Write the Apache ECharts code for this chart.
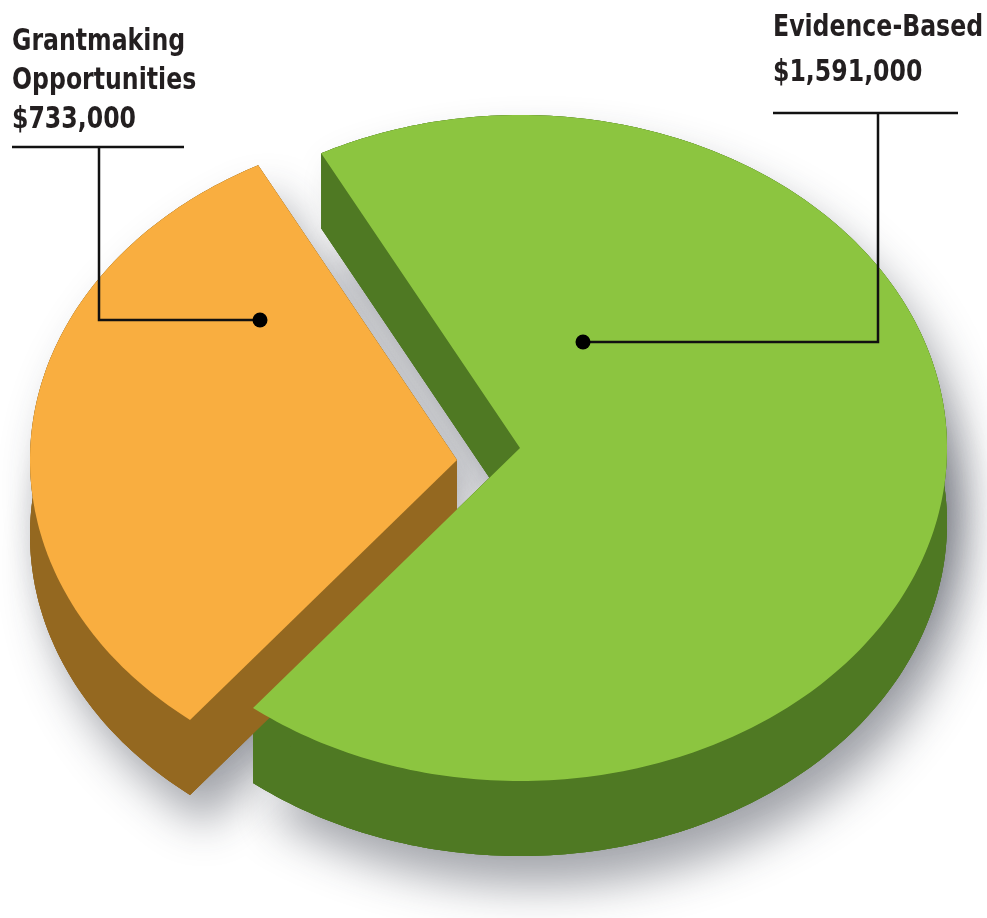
<!DOCTYPE html>
<html>
<head>
<meta charset="utf-8">
<script src="https://cdn.jsdelivr.net/npm/echarts@6/dist/echarts.min.js"></script>
<style>
html, body { margin: 0; padding: 0; background: #fff; }
#main { width: 987px; height: 918px; }
</style>
</head>
<body>
<div id="main"></div>
<script>
// data
var categories = ['Evidence-Based', 'Grantmaking Opportunities'];
var labelNames = ['Evidence-Based', 'Grantmaking\nOpportunities'];
var amounts = [1591000, 733000];

// look
var topColors = ['#8cc540', '#f9ae40'];
var sideColors = ['#4f7923', '#946820'];
var RX = 427, RY = 333, DEPTH = 75;
var START_ANGLE = 231.3;           // first slice starts here, going counter-clockwise
var centers = [[520, 448], [457, 460]];   // exploded slice centres
var labelStyle = [
    { x: 773, y: 6, lineHeight: 45, ux0: 773, ux1: 958, uy: 113, vx: 878, dot: [63, -106] },
    { x: 12, y: 23, lineHeight: 39, ux0: 12, ux1: 184, uy: 147, vx: 99, dot: [-197, -140] }
];

var total = amounts.reduce(function (a, b) { return a + b; }, 0);

function pt(c, deg, dy) {
    var r = deg * Math.PI / 180;
    return [c[0] + RX * Math.cos(r), c[1] - RY * Math.sin(r) + dy];
}
function arc(c, a0, a1, dy) {
    var n = Math.ceil(Math.abs(a1 - a0)) + 1;
    var pts = [];
    for (var k = 0; k <= n; k++) {
        pts.push(pt(c, a0 + (a1 - a0) * k / n, dy));
    }
    return pts;
}

function renderItem(params, api) {
    var i = params.dataIndex;
    var before = 0;
    for (var j = 0; j < i; j++) before += amounts[j];
    var a0 = START_ANGLE + before / total * 360;
    var a1 = a0 + api.value(0) / total * 360;
    var c = centers[i];
    var cd = [c[0], c[1] + DEPTH];
    var side = { fill: sideColors[i] };
    var shadow = {
        fill: sideColors[i],
        shadowBlur: 45, shadowColor: 'rgba(40,45,60,0.42)',
        shadowOffsetX: 16, shadowOffsetY: 30
    };
    var children = [];
    // shadow silhouette
    children.push({ type: 'polygon', z2: 0, shape: { points: [cd].concat(arc(c, a0, a1, DEPTH)) }, style: shadow });
    children.push({ type: 'polygon', z2: 0, shape: { points: [c].concat(arc(c, a0, a1, 0)) }, style: shadow });
    // sides
    children.push({ type: 'polygon', z2: 1, shape: { points: [cd].concat(arc(c, a0, a1, DEPTH)) }, style: side });
    children.push({ type: 'polygon', z2: 1, shape: { points: arc(c, a0, a1, 0).concat(arc(c, a1, a0, DEPTH)) }, style: side });
    [a0, a1].forEach(function (a) {
        var p = pt(c, a, 0);
        children.push({ type: 'polygon', z2: 1, shape: { points: [c, p, [p[0], p[1] + DEPTH], cd] }, style: side });
    });
    // top
    children.push({ type: 'polygon', z2: 2, shape: { points: [c].concat(arc(c, a0, a1, 0)) }, style: { fill: topColors[i] } });

    // label with leader line
    var L = labelStyle[i];
    var dot = [c[0] + L.dot[0], c[1] + L.dot[1]];
    children.push({
        type: 'text', z2: 5, x: L.x, y: L.y, scaleX: 0.875,
        style: {
            text: labelNames[i] + '\n$' + api.value(0).toLocaleString('en-US'),
            font: 'bold 30px "DejaVu Sans Condensed", "DejaVu Sans", sans-serif',
            lineHeight: L.lineHeight, fill: '#231f20', verticalAlign: 'top', align: 'left'
        }
    });
    children.push({ type: 'line', z2: 5, shape: { x1: L.ux0, y1: L.uy, x2: L.ux1, y2: L.uy }, style: { stroke: '#111', lineWidth: 2.5 } });
    children.push({ type: 'polyline', z2: 5, shape: { points: [[L.vx, L.uy], [L.vx, dot[1]], dot] }, style: { stroke: '#111', lineWidth: 2.5, fill: null } });
    children.push({ type: 'circle', z2: 6, shape: { cx: dot[0], cy: dot[1], r: 7.5 }, style: { fill: '#000' } });

    return { type: 'group', children: children };
}

var chart = echarts.init(document.getElementById('main'));
var option = {
    animation: false,
    series: [{
        type: 'custom',
        name: 'Funding',
        coordinateSystem: 'none',
        silent: true,
        renderItem: renderItem,
        data: amounts.map(function (v, k) { return { name: categories[k], value: [v] }; })
    }]
};
chart.setOption(option);
</script>
</body>
</html>
